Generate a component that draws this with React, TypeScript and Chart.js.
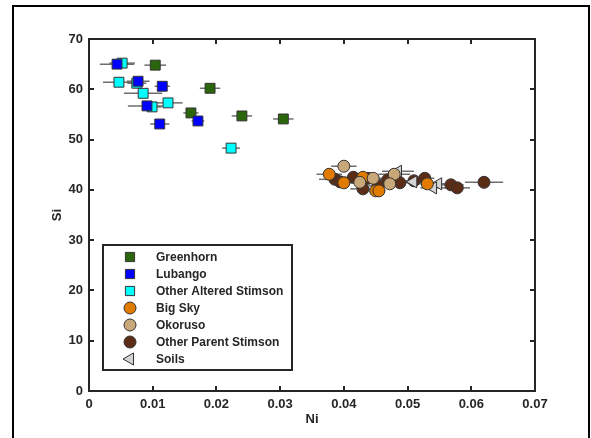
import React, { useEffect, useRef } from "react";
import { Chart, registerables } from "chart.js";
import { drawPoint } from "chart.js/helpers";

Chart.register(...registerables);

// ---------- data ----------
const xTicks = [0, 0.01, 0.02, 0.03, 0.04, 0.05, 0.06, 0.07];
const xTickLabels = ["0", "0.01", "0.02", "0.03", "0.04", "0.05", "0.06", "0.07"];
const yTicks = [0, 10, 20, 30, 40, 50, 60, 70];
const yTickLabels = ["0", "10", "20", "30", "40", "50", "60", "70"];

const seriesNames = [
  "Greenhorn",
  "Lubango",
  "Other Altered Stimson",
  "Big Sky",
  "Okoruso",
  "Other Parent Stimson",
  "Soils",
];

const greenhornNi = [0.0104, 0.019, 0.016, 0.024, 0.0305];
const greenhornSi = [64.8, 60.2, 55.3, 54.7, 54.1];
const greenhornErr = [0.0017, 0.0016, 0.0012, 0.0016, 0.0016];

const lubangoNi = [0.0044, 0.0077, 0.0115, 0.0091, 0.0111, 0.0171];
const lubangoSi = [65.0, 61.6, 60.6, 56.7, 53.1, 53.7];
const lubangoErr = [0.0027, 0.0018, 0.0012, 0.003, 0.0015, 0.001];

const alteredNi = [0.0052, 0.0047, 0.0075, 0.0085, 0.0099, 0.0124, 0.0223];
const alteredSi = [65.2, 61.4, 61.2, 59.2, 56.5, 57.3, 48.3];
const alteredErr = [0.002, 0.0025, 0.0015, 0.003, 0.0015, 0.0023, 0.0014];

const bigSkyNi = [0.0377, 0.04, 0.043, 0.045, 0.0455, 0.0531];
const bigSkySi = [43.1, 41.4, 42.5, 39.8, 39.8, 41.2];
const bigSkyErr = [0.002, 0.0015, 0.0015, 0.001, 0.001, 0.0015];

const okorusoNi = [0.04, 0.0446, 0.0425, 0.0479, 0.0472];
const okorusoSi = [44.7, 42.3, 41.5, 43.1, 41.2];
const okorusoErr = [0.002, 0.0015, 0.0015, 0.0025, 0.002];

const parentNi = [0.0386, 0.0394, 0.0415, 0.043, 0.0438, 0.0454, 0.0469, 0.0488, 0.051, 0.0527, 0.0568, 0.0578, 0.062];
const parentSi = [42.1, 41.6, 42.5, 40.2, 42.3, 40.8, 42.0, 41.4, 41.8, 42.3, 41.0, 40.4, 41.5];
const parentErr = [0.0025, 0.0015, 0.0015, 0.002, 0.0015, 0.0015, 0.002, 0.002, 0.002, 0.0015, 0.002, 0.002, 0.003];

const soilsNi = [0.0485, 0.0509, 0.0548, 0.054];
const soilsSi = [43.7, 41.6, 41.2, 40.4];
const soilsErr = [0.0025, 0.002, 0.002, 0.002];

const originNi = [0];
const originSi = [0];

// ---------- styles ----------
const styles = [
  { fill: "#2b660c", shape: "rect", radius: 7, rotation: 0, order: 3 },
  { fill: "#0000ff", shape: "rect", radius: 7, rotation: 0, order: 1 },
  { fill: "#00ffff", shape: "rect", radius: 7, rotation: 0, order: 2 },
  { fill: "#e07b00", shape: "circle", radius: 6, rotation: 0, order: 5 },
  { fill: "#c8a878", shape: "circle", radius: 6, rotation: 0, order: 4 },
  { fill: "#5c2d16", shape: "circle", radius: 6, rotation: 0, order: 7 },
  { fill: "#d4d4d4", shape: "triangle", radius: 7, rotation: -90, order: 6 },
];

const seriesData = [
  [greenhornNi, greenhornSi, greenhornErr],
  [lubangoNi, lubangoSi, lubangoErr],
  [alteredNi, alteredSi, alteredErr],
  [bigSkyNi, bigSkySi, bigSkyErr],
  [okorusoNi, okorusoSi, okorusoErr],
  [parentNi, parentSi, parentErr],
  [soilsNi, soilsSi, soilsErr],
];

const AXIS_COLOR = "#262626";
const FONT = "Arial, 'Liberation Sans', sans-serif";

const decorPlugin = {
  id: "decor",
  beforeDatasetsDraw(chart: any) {
    const ctx = chart.ctx;
    const xs = chart.scales.x;
    const ys = chart.scales.y;
    ctx.save();
    ctx.strokeStyle = "#6e6e6e";
    ctx.lineWidth = 1.5;
    seriesData.forEach(([ni, si, err]) => {
      ni.forEach((v: number, i: number) => {
        const y = ys.getPixelForValue(si[i]);
        ctx.beginPath();
        ctx.moveTo(xs.getPixelForValue(v - err[i]), y);
        ctx.lineTo(xs.getPixelForValue(v + err[i]), y);
        ctx.stroke();
      });
    });
    ctx.restore();
  },
  afterDraw(chart: any) {
    const ctx = chart.ctx;
    const { left, right, top, bottom } = chart.chartArea;
    const xs = chart.scales.x;
    const ys = chart.scales.y;
    ctx.save();
    ctx.strokeStyle = AXIS_COLOR;
    ctx.lineWidth = 2;
    ctx.strokeRect(left, top, right - left, bottom - top);
    const tl = 5;
    ctx.beginPath();
    xTicks.forEach((v) => {
      const x = Math.round(xs.getPixelForValue(v));
      ctx.moveTo(x, bottom);
      ctx.lineTo(x, bottom - tl);
      ctx.moveTo(x, top);
      ctx.lineTo(x, top + tl);
    });
    yTicks.forEach((v) => {
      const y = Math.round(ys.getPixelForValue(v));
      ctx.moveTo(left, y);
      ctx.lineTo(left + tl, y);
      ctx.moveTo(right, y);
      ctx.lineTo(right - tl, y);
    });
    ctx.stroke();

    // legend
    const lx = 103, ly = 245, lw = 189, lh = 125;
    ctx.fillStyle = "#ffffff";
    ctx.fillRect(lx, ly, lw, lh);
    ctx.strokeStyle = AXIS_COLOR;
    ctx.lineWidth = 2;
    ctx.strokeRect(lx, ly, lw, lh);
    ctx.font = `bold 12px ${FONT}`;
    ctx.textBaseline = "middle";
    seriesNames.forEach((name, i) => {
      const st = styles[i];
      const y = 257 + i * 17;
      ctx.fillStyle = st.fill;
      ctx.strokeStyle = "#333333";
      ctx.lineWidth = 1;
      drawPoint(ctx, {
        pointStyle: st.shape,
        radius: st.shape === "rect" ? 6.5 : st.radius,
        rotation: st.rotation,
        borderWidth: 1,
      } as any, 130, y);
      ctx.fillStyle = AXIS_COLOR;
      ctx.fillText(name, 156, y + 0.5);
    });
    ctx.restore();
  },
};

export default function App() {
  const ref = useRef<HTMLCanvasElement | null>(null);

  useEffect(() => {
    if (!ref.current) return;
    const datasets: any[] = seriesData.map(([ni, si], i) => ({
      label: seriesNames[i],
      data: ni.map((v: number, j: number) => ({ x: v, y: si[j] })),
      pointStyle: styles[i].shape,
      pointRadius: styles[i].radius,
      pointRotation: styles[i].rotation,
      backgroundColor: styles[i].fill,
      borderColor: "#333333",
      borderWidth: 1,
      showLine: false,
      order: styles[i].order,
    }));
    datasets.push({
      label: "origin",
      data: originNi.map((v, j) => ({ x: v, y: originSi[j] })),
      pointStyle: "circle",
      pointRadius: 1.5,
      backgroundColor: "#0072bd",
      borderWidth: 0,
      showLine: false,
      order: 0,
    });

    const chart = new Chart(ref.current, {
      type: "scatter",
      data: { datasets },
      options: {
        animation: false,
        responsive: false,
        events: [],
        layout: { padding: { top: 39, right: 56, left: 0, bottom: 0 } },
        plugins: { legend: { display: false }, tooltip: { enabled: false } },
        scales: {
          x: {
            type: "linear",
            min: 0,
            max: 0.07,
            afterBuildTicks: (s: any) => {
              s.ticks = xTicks.map((v) => ({ value: v }));
            },
            afterFit: (s: any) => {
              s.height = 47;
            },
            grid: { display: false, drawTicks: false },
            border: { display: false },
            ticks: {
              padding: 6,
              color: AXIS_COLOR,
              font: { family: FONT, size: 13, weight: "bold" },
              maxRotation: 0,
              autoSkip: false,
              callback: (v: any) => xTickLabels[xTicks.indexOf(Number(v))] ?? String(v),
            },
            title: {
              display: true,
              text: "Ni",
              color: AXIS_COLOR,
              font: { family: FONT, size: 13, weight: "bold" },
              padding: { top: 0, bottom: 11 },
            },
          },
          y: {
            type: "linear",
            min: 0,
            max: 70,
            afterBuildTicks: (s: any) => {
              s.ticks = yTicks.map((v) => ({ value: v }));
            },
            afterFit: (s: any) => {
              s.width = 89;
            },
            grid: { display: false, drawTicks: false },
            border: { display: false },
            ticks: {
              padding: 6,
              color: AXIS_COLOR,
              font: { family: FONT, size: 13, weight: "bold" },
              autoSkip: false,
              callback: (v: any) => yTickLabels[yTicks.indexOf(Number(v))] ?? String(v),
            },
            title: {
              display: true,
              text: "Si",
              color: AXIS_COLOR,
              font: { family: FONT, size: 13, weight: "bold" },
              padding: { top: 50, bottom: 0 },
            },
          },
        },
      },
      plugins: [decorPlugin],
    });
    return () => chart.destroy();
  }, []);

  return (
    <div
      style={{
        position: "absolute",
        left: 0,
        top: 0,
        width: 591,
        height: 438,
        overflow: "hidden",
        background: "#ffffff",
      }}
    >
      <div
        style={{
          position: "absolute",
          left: 12,
          top: 5,
          width: 578,
          height: 460,
          boxSizing: "border-box",
          border: "2px solid #000000",
        }}
      />
      <canvas
        ref={ref}
        width={591}
        height={438}
        style={{ position: "absolute", left: 0, top: 0, width: 591, height: 438 }}
      />
    </div>
  );
}
